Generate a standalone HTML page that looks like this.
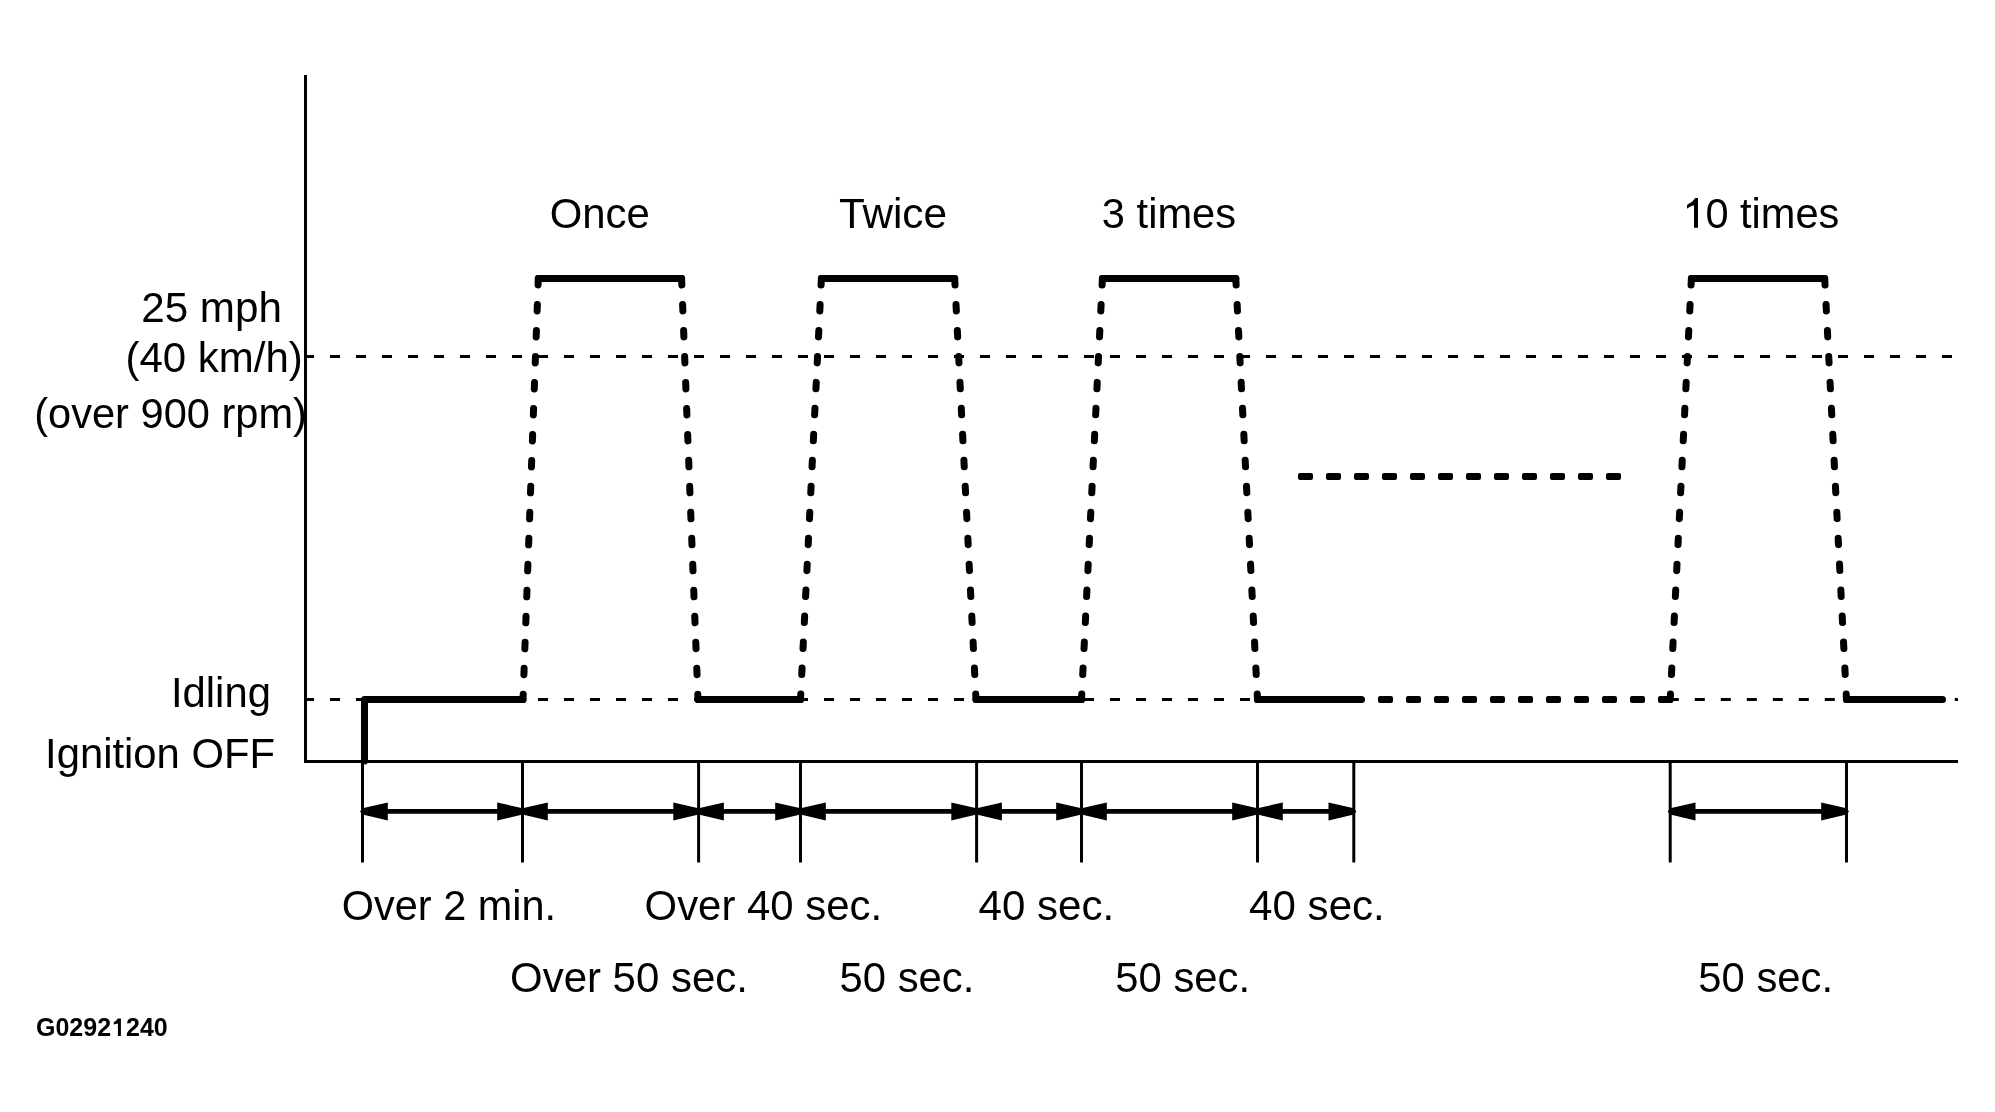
<!DOCTYPE html>
<html><head><meta charset="utf-8"><title>Diagram</title>
<style>
html,body{margin:0;padding:0;background:#fff;overflow:hidden;}
svg{display:block;will-change:transform;}
text{font-family:"Liberation Sans",sans-serif;fill:#000;}
</style></head><body>
<svg width="1995" height="1112" viewBox="0 0 1995 1112">
<rect width="1995" height="1112" fill="#fff"/>
<g stroke="#000" stroke-width="3" fill="none">
<line x1="304" y1="356.5" x2="1958" y2="356.5" stroke-dasharray="10 16"/>
<line x1="304" y1="699.5" x2="1362" y2="699.5" stroke-dasharray="10 16"/>
<line x1="1668.8" y1="699.5" x2="1958" y2="699.5" stroke-dasharray="10 16"/>
<path d="M305.5 75 V761.5 H1958"/>
<line x1="362.5" y1="761.5" x2="362.5" y2="862.5"/>
<line x1="522.5" y1="761.5" x2="522.5" y2="862.5"/>
<line x1="698.6" y1="761.5" x2="698.6" y2="862.5"/>
<line x1="800.5" y1="761.5" x2="800.5" y2="862.5"/>
<line x1="976.6" y1="761.5" x2="976.6" y2="862.5"/>
<line x1="1081.5" y1="761.5" x2="1081.5" y2="862.5"/>
<line x1="1257.5" y1="761.5" x2="1257.5" y2="862.5"/>
<line x1="1353.8" y1="761.5" x2="1353.8" y2="862.5"/>
<line x1="1670.2" y1="761.5" x2="1670.2" y2="862.5"/>
<line x1="1846.5" y1="761.5" x2="1846.5" y2="862.5"/>
</g>
<g stroke="#000" stroke-width="4.8" fill="none">
<line x1="385.8" y1="811.4" x2="499.2" y2="811.4"/>
<line x1="545.8" y1="811.4" x2="675.3" y2="811.4"/>
<line x1="721.9" y1="811.4" x2="777.2" y2="811.4"/>
<line x1="823.8" y1="811.4" x2="953.3" y2="811.4"/>
<line x1="999.9" y1="811.4" x2="1058.2" y2="811.4"/>
<line x1="1104.8" y1="811.4" x2="1234.2" y2="811.4"/>
<line x1="1280.8" y1="811.4" x2="1330.5" y2="811.4"/>
<line x1="1693.5" y1="811.4" x2="1823.2" y2="811.4"/>
</g>
<g fill="#000">
<path d="M360 811.4 L362.5 808.2 L387.8 802.4 V820.4 L362.5 814.6 Z"/>
<path d="M525 811.4 L522.5 808.2 L497.2 802.4 V820.4 L522.5 814.6 Z"/>
<path d="M520 811.4 L522.5 808.2 L547.8 802.4 V820.4 L522.5 814.6 Z"/>
<path d="M701.1 811.4 L698.6 808.2 L673.3 802.4 V820.4 L698.6 814.6 Z"/>
<path d="M696.1 811.4 L698.6 808.2 L723.9 802.4 V820.4 L698.6 814.6 Z"/>
<path d="M803 811.4 L800.5 808.2 L775.2 802.4 V820.4 L800.5 814.6 Z"/>
<path d="M798 811.4 L800.5 808.2 L825.8 802.4 V820.4 L800.5 814.6 Z"/>
<path d="M979.1 811.4 L976.6 808.2 L951.3 802.4 V820.4 L976.6 814.6 Z"/>
<path d="M974.1 811.4 L976.6 808.2 L1001.9 802.4 V820.4 L976.6 814.6 Z"/>
<path d="M1084 811.4 L1081.5 808.2 L1056.2 802.4 V820.4 L1081.5 814.6 Z"/>
<path d="M1079 811.4 L1081.5 808.2 L1106.8 802.4 V820.4 L1081.5 814.6 Z"/>
<path d="M1260 811.4 L1257.5 808.2 L1232.2 802.4 V820.4 L1257.5 814.6 Z"/>
<path d="M1255 811.4 L1257.5 808.2 L1282.8 802.4 V820.4 L1257.5 814.6 Z"/>
<path d="M1356.3 811.4 L1353.8 808.2 L1328.5 802.4 V820.4 L1353.8 814.6 Z"/>
<path d="M1667.7 811.4 L1670.2 808.2 L1695.5 802.4 V820.4 L1670.2 814.6 Z"/>
<path d="M1849 811.4 L1846.5 808.2 L1821.2 802.4 V820.4 L1846.5 814.6 Z"/>
</g>
<g stroke="#000" stroke-width="7" fill="none" stroke-linecap="round" stroke-linejoin="round">
<path d="M364.5 761 V699.5 H523"/>
<path d="M698 699.5 H800.5"/>
<path d="M976 699.5 H1081.5"/>
<path d="M1257.5 699.5 H1361.5"/>
<path d="M1846.5 699.5 H1942.5"/>
<path d="M538.3 278.5 H681.6"/>
<path d="M821.4 278.5 H954.7"/>
<path d="M1102.4 278.5 H1235.8"/>
<path d="M1691.4 278.5 H1824.7"/>
</g>
<g fill="#000">
<rect x="1378" y="696" width="15" height="7" rx="2"/>
<rect x="1406" y="696" width="15" height="7" rx="2"/>
<rect x="1434" y="696" width="15" height="7" rx="2"/>
<rect x="1462" y="696" width="15" height="7" rx="2"/>
<rect x="1490" y="696" width="15" height="7" rx="2"/>
<rect x="1518" y="696" width="15" height="7" rx="2"/>
<rect x="1546" y="696" width="15" height="7" rx="2"/>
<rect x="1574" y="696" width="15" height="7" rx="2"/>
<rect x="1602" y="696" width="15" height="7" rx="2"/>
<rect x="1630" y="696" width="15" height="7" rx="2"/>
<rect x="1658" y="696" width="15" height="7" rx="2"/>
<rect x="1298" y="473" width="15" height="7" rx="2"/>
<rect x="1326" y="473" width="15" height="7" rx="2"/>
<rect x="1354" y="473" width="15" height="7" rx="2"/>
<rect x="1382" y="473" width="15" height="7" rx="2"/>
<rect x="1410" y="473" width="15" height="7" rx="2"/>
<rect x="1438" y="473" width="15" height="7" rx="2"/>
<rect x="1466" y="473" width="15" height="7" rx="2"/>
<rect x="1494" y="473" width="15" height="7" rx="2"/>
<rect x="1522" y="473" width="15" height="7" rx="2"/>
<rect x="1550" y="473" width="15" height="7" rx="2"/>
<rect x="1578" y="473" width="15" height="7" rx="2"/>
<rect x="1606" y="473" width="15" height="7" rx="2"/>
</g>
<g stroke="#000" stroke-width="7" fill="none" stroke-linecap="round" stroke-dasharray="6.5 19.5">
<line x1="538.3" y1="278.5" x2="523" y2="699.5"/>
<line x1="681.6" y1="278.5" x2="698" y2="699.5"/>
<line x1="821.4" y1="278.5" x2="800.5" y2="699.5"/>
<line x1="954.7" y1="278.5" x2="976" y2="699.5"/>
<line x1="1102.4" y1="278.5" x2="1081.5" y2="699.5"/>
<line x1="1235.8" y1="278.5" x2="1257.5" y2="699.5"/>
<line x1="1691.4" y1="278.5" x2="1670.2" y2="699.5"/>
<line x1="1824.7" y1="278.5" x2="1846.5" y2="699.5"/>
</g>
<text transform="translate(549.74 227.8) scale(1 1.02)" font-size="41.9">Once</text>
<text transform="translate(838.92 228) scale(1 1.02)" font-size="42.3">Twice</text>
<text transform="translate(1101.86 228) scale(1 1.02)" font-size="41.65">3 times</text>
<text transform="translate(1705.38 227.9) scale(1 1.02)" font-size="41.6">0 times</text>
<text transform="translate(141.19 322.1) scale(1 1.02)" font-size="42.2">25 mph</text>
<text transform="translate(125.4 371.7) scale(1 1.02)" font-size="42.0">(40 km/h)</text>
<text transform="translate(34.22 428.1) scale(1 1.02)" font-size="41.6">(over 900 rpm)</text>
<text transform="translate(170.95 707.1) scale(1 1.02)" font-size="41.8">Idling</text>
<text transform="translate(45.05 768) scale(1 1.02)" font-size="41.8">Ignition OFF</text>
<text transform="translate(341.81 919.9) scale(1 1.02)" font-size="41.45">Over 2 min.</text>
<text transform="translate(644.59 920) scale(1 1.02)" font-size="41.9">Over 40 sec.</text>
<text transform="translate(978.47 920.1) scale(1 1.02)" font-size="42.1">40 sec.</text>
<text transform="translate(1249.07 920.1) scale(1 1.02)" font-size="42.1">40 sec.</text>
<text transform="translate(509.98 991.6) scale(1 1.02)" font-size="42.0">Over 50 sec.</text>
<text transform="translate(839.53 992.2) scale(1 1.02)" font-size="41.8">50 sec.</text>
<text transform="translate(1115.33 992) scale(1 1.02)" font-size="41.8">50 sec.</text>
<text transform="translate(1698.33 992.2) scale(1 1.02)" font-size="41.8">50 sec.</text>
<text transform="translate(35.98 1035.9) scale(1 1.02)" font-size="25" font-weight="700">G0292</text>
<text transform="translate(126.03 1035.9) scale(1 1.02)" font-size="25" font-weight="700">240</text>
<path d="M1694 227.8V205.6L1692 205.8L1689.9 206.8L1688.3 207.8L1687 208.8V205.3L1688.3 204L1690.1 203L1692.1 201.7L1694 199.5L1695.4 197.9H1698V227.8Z"/>
<path d="M117.9 1035.9V1023.4L113.8 1024.5V1022L115.8 1021L117.9 1018.6H120.9V1035.9Z"/>
</svg>
</body></html>
